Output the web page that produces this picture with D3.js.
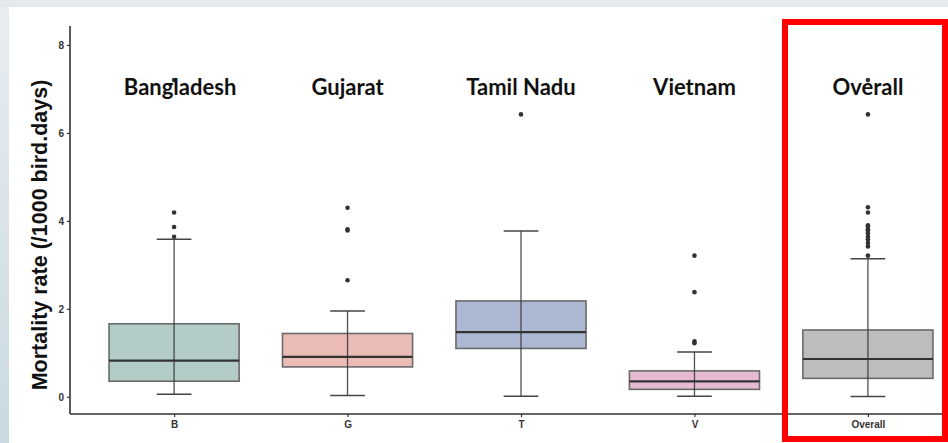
<!DOCTYPE html>
<html>
<head>
<meta charset="utf-8">
<script src="https://cdn.jsdelivr.net/npm/d3@7"></script>
<style>
  html, body { margin: 0; padding: 0; background: #fff; }
  svg { display: block; }
</style>
</head>
<body>
<div id="chart"></div>
<script>
// Mortality rate box plots, one box per region plus the overall one
const categories = ["B", "G", "T", "V", "Overall"];
const titles = ["Bangladesh", "Gujarat", "Tamil Nadu", "Vietnam", "Overall"];
const q1 = [0.355, 0.68, 1.10, 0.17, 0.42];
const medians = [0.825, 0.91, 1.47, 0.35, 0.86];
const q3 = [1.66, 1.44, 2.18, 0.59, 1.52];
const whiskerLow = [0.06, 0.03, 0.015, 0.015, 0.01];
const whiskerHigh = [3.58, 1.95, 3.77, 1.02, 3.14];
const outliers = [
    [7.2, 4.19, 3.86, 3.64],
    [4.30, 3.81, 3.78, 2.65],
    [6.42],
    [3.21, 2.38, 1.26, 1.22],
    [7.2, 6.42, 4.31, 4.19, 3.90, 3.86, 3.81, 3.78, 3.72, 3.64, 3.58, 3.50, 3.42, 3.21]
];
const fills = ["#b3ccc8", "#ebbbb6", "#adb8d3", "#e7bad3", "#bdbdbd"];
const yTicks = [0, 2, 4, 6, 8];

const width = 948, height = 443;

const svg = d3.select("#chart").append("svg")
    .attr("width", width)
    .attr("height", height);

// slide-like backdrop
const defs = svg.append("defs");
const grad = defs.append("linearGradient").attr("id", "side")
    .attr("x1", 0).attr("y1", 0).attr("x2", 0).attr("y2", 1);
grad.append("stop").attr("offset", "0%").attr("stop-color", "#e9edef");
grad.append("stop").attr("offset", "100%").attr("stop-color", "#c9d9e1");
svg.append("rect").attr("width", width).attr("height", height).attr("fill", "url(#side)");
svg.append("rect").attr("x", 0).attr("y", 0).attr("width", width).attr("height", 7).attr("fill", "#e5e9eb");
svg.append("rect").attr("x", 9).attr("y", 7).attr("width", width - 9).attr("height", height - 7).attr("fill", "#fff");

const x = d3.scalePoint().domain(categories).range([70, 972]).padding(0.6);
const y = d3.scaleLinear().domain([-0.39, 8.43]).range([414, 26]);
const step = x.step();
const boxW = step * 0.75;
const capW = step * 0.2;

const g = svg.append("g");

// axes
const yAxis = g.append("g").attr("transform", "translate(70,0)")
    .call(d3.axisLeft(y).tickValues(yTicks).tickSize(3).tickPadding(3));
const xAxis = g.append("g").attr("transform", "translate(0,414)")
    .call(d3.axisBottom(x).tickSize(3).tickPadding(4));
[yAxis, xAxis].forEach(a => {
    a.select(".domain").attr("stroke", "#333").attr("stroke-width", 1.6);
    a.selectAll(".tick line").attr("stroke", "#333").attr("stroke-width", 1.2);
    a.selectAll(".tick text")
        .attr("fill", "#333")
        .style("font-family", "'Liberation Sans', Arial, sans-serif")
        .style("font-weight", "bold")
        .style("font-size", "10px");
});
yAxis.select(".domain").attr("d", `M0,${y.range()[0]}V${y.range()[1]}`);
xAxis.select(".domain").attr("d", `M${x.range()[0]},0H${width}`);

const rows = categories.map((c, i) => ({
    cat: c, title: titles[i], q1: q1[i], med: medians[i], q3: q3[i],
    lo: whiskerLow[i], hi: whiskerHigh[i], out: outliers[i], fill: fills[i]
}));

const box = g.selectAll(".box").data(rows).join("g").attr("class", "box")
    .attr("transform", d => `translate(${x(d.cat)},0)`);

box.append("rect")
    .attr("x", -boxW / 2)
    .attr("y", d => y(d.q3))
    .attr("width", boxW)
    .attr("height", d => y(d.q1) - y(d.q3))
    .attr("fill", d => d.fill)
    .attr("stroke", "#6a6a6a")
    .attr("stroke-width", 1.6);

box.append("line")
    .attr("y1", d => y(d.lo)).attr("y2", d => y(d.hi))
    .attr("stroke", "#333").attr("stroke-opacity", 0.85).attr("stroke-width", 1.3);

box.selectAll(".cap").data(d => [d.lo, d.hi]).join("line")
    .attr("class", "cap")
    .attr("x1", -capW / 2).attr("x2", capW / 2)
    .attr("y1", v => y(v)).attr("y2", v => y(v))
    .attr("stroke", "#444").attr("stroke-width", 1.5);

box.append("line")
    .attr("x1", -boxW / 2).attr("x2", boxW / 2)
    .attr("y1", d => y(d.med)).attr("y2", d => y(d.med))
    .attr("stroke", "#333").attr("stroke-width", 2.2);

box.selectAll(".out").data(d => d.out).join("circle")
    .attr("class", "out")
    .attr("cy", v => y(v))
    .attr("r", 2.3)
    .attr("fill", "#333");

// region titles (pasted over the plot, Bangladesh sits a little right)
box.append("text")
    .attr("x", (d, i) => i === 0 ? 6 : 0)
    .attr("y", 95)
    .attr("text-anchor", "middle")
    .style("font-family", "Lato, 'Open Sans', sans-serif")
    .style("font-weight", "bold")
    .style("font-size", "22px")
    .attr("fill", "#111")
    .text(d => d.title);

// y axis title
svg.append("text")
    .attr("transform", `translate(47,${(y(8.43) + y(-0.39)) / 2 + 15}) rotate(-90)`)
    .attr("text-anchor", "middle")
    .style("font-family", "'Liberation Sans', Arial, sans-serif")
    .style("font-weight", "bold")
    .style("font-size", "21.5px")
    .attr("fill", "#111")
    .text("Mortality rate (/1000 bird.days)");

// red highlight frame around Overall
svg.append("rect")
    .attr("x", 785).attr("y", 22)
    .attr("width", 160).attr("height", 417)
    .attr("fill", "none")
    .attr("stroke", "#ff0000")
    .attr("stroke-width", 6);
</script>
</body>
</html>
